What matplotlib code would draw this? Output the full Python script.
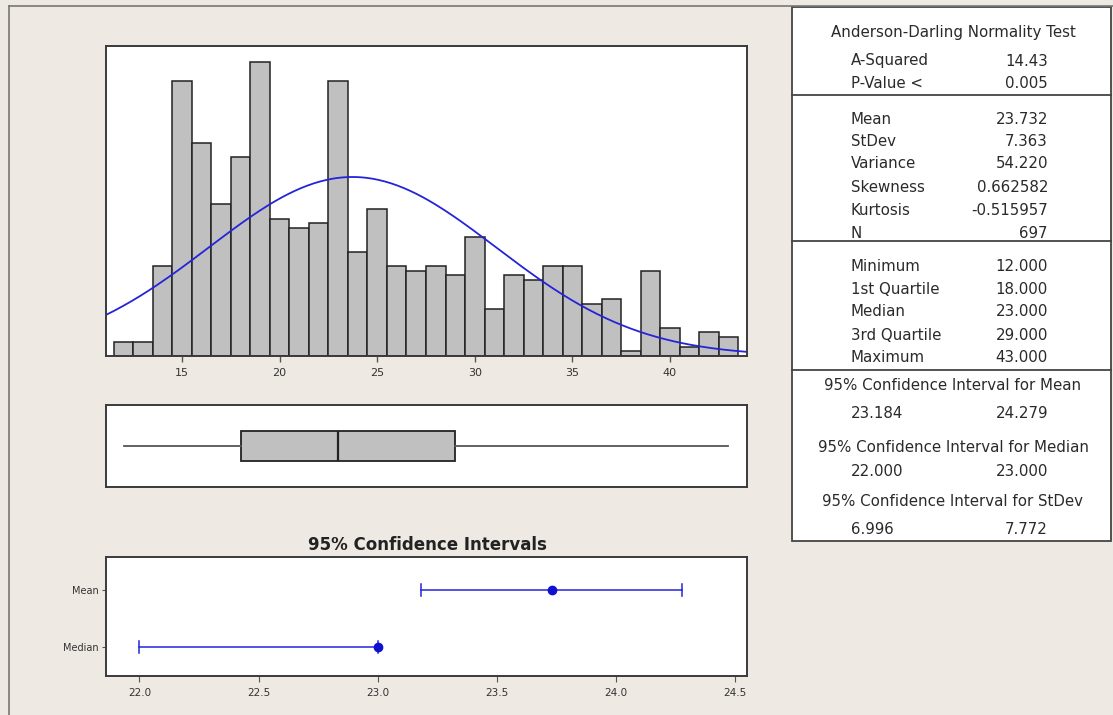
import numpy as np
import matplotlib.pyplot as plt
from matplotlib.patches import Rectangle
from matplotlib.lines import Line2D

# Histogram data (value -> count), N = 697
values = list(range(12, 44))
counts = [3, 3, 19, 58, 45, 32, 42, 62, 29, 27, 28, 58, 22, 31, 19, 18,
          19, 17, 25, 10, 17, 16, 19, 19, 11, 12, 1, 18, 6, 2, 5, 4]

# Summary statistics
mean, stdev, n = 23.732, 7.363, 697
box_stats = {'min': 12, 'q1': 18, 'median': 23, 'q3': 29, 'max': 43}
ci_labels = ['Mean', 'Median']
ci_center = [23.732, 23.0]
ci_low = [23.184, 22.0]
ci_high = [24.279, 23.0]
ci_ticks = [22.0, 22.5, 23.0, 23.5, 24.0, 24.5]
hist_ticks = [15, 20, 25, 30, 35, 40]

table_rows = [
    ('A-Squared', '14.43'), ('P-Value <', '0.005'),
    ('Mean', '23.732'), ('StDev', '7.363'), ('Variance', '54.220'),
    ('Skewness', '0.662582'), ('Kurtosis', '-0.515957'), ('N', '697'),
    ('Minimum', '12.000'), ('1st Quartile', '18.000'), ('Median', '23.000'),
    ('3rd Quartile', '29.000'), ('Maximum', '43.000'),
]
row_y = [61, 84, 119, 142, 164, 188, 210, 233, 267, 289, 312, 335, 357]
ci_rows = [
    ('95% Confidence Interval for Mean', '23.184', '24.279'),
    ('95% Confidence Interval for Median', '22.000', '23.000'),
    ('95% Confidence Interval for StDev', '6.996', '7.772'),
]
ci_row_y = [(386, 414), (447, 472), (501, 530)]

W, H = 1113, 715
BG = '#EEE9E3'
EDGE = '#3a3a3a'
BLUE = '#2424D8'

fig = plt.figure(figsize=(W / 100, H / 100), dpi=100, facecolor=BG)


def px_axes(l, t, r, b):
    return fig.add_axes([l / W, 1 - b / H, (r - l) / W, (b - t) / H])


def style_box(ax):
    for s in ax.spines.values():
        s.set_color(EDGE)
        s.set_linewidth(1.4)


xlim = (11.1, 43.95)

# ---- histogram
ax = px_axes(106, 46, 747, 356)
ax.bar(values, counts, width=1.0, color='#C0C0C0', edgecolor='#222222', linewidth=1.1)
xs = np.linspace(xlim[0], xlim[1], 300)
pdf = n * np.exp(-0.5 * ((xs - mean) / stdev) ** 2) / (stdev * np.sqrt(2 * np.pi))
ax.plot(xs, pdf, color=BLUE, lw=1.3)
ax.set_xlim(*xlim)
ax.set_ylim(0, 65.4)
ax.set_yticks([])
ax.set_xticks(hist_ticks)
ax.tick_params(axis='x', length=4, width=1, color='#555555', labelsize=8, pad=5, labelcolor='#333333')
style_box(ax)

# ---- boxplot
axb = px_axes(106, 405, 747, 487)
axb.bxp([{'whislo': box_stats['min'], 'q1': box_stats['q1'], 'med': box_stats['median'],
          'q3': box_stats['q3'], 'whishi': box_stats['max'], 'fliers': []}],
        vert=False, widths=0.36, patch_artist=True, showcaps=False,
        boxprops=dict(facecolor='#C0C0C0', edgecolor='#222222', linewidth=1.3),
        medianprops=dict(color='#222222', linewidth=1.6),
        whiskerprops=dict(color='#555555', linewidth=1.3))
axb.set_xlim(*xlim)
axb.set_ylim(0.5, 1.5)
axb.set_xticks([])
axb.set_yticks([])
style_box(axb)

# ---- confidence intervals
axc = px_axes(106, 557, 747, 676)
ypos = [1, 0]
for y, c, lo, hi in zip(ypos, ci_center, ci_low, ci_high):
    axc.plot([lo, hi], [y, y], color=BLUE, lw=1.1)
    axc.plot([lo, lo], [y - 0.1, y + 0.1], color=BLUE, lw=1.1)
    axc.plot([hi, hi], [y - 0.1, y + 0.1], color=BLUE, lw=1.1)
    axc.plot([c], [y], 'o', color='#1010D0', ms=6)
axc.set_xlim(21.86, 24.55)
axc.set_ylim(-0.51, 1.58)
axc.set_xticks(ci_ticks)
axc.set_xticklabels([f'{t:.1f}' for t in ci_ticks])
axc.set_yticks(ypos)
axc.set_yticklabels(ci_labels)
axc.tick_params(axis='x', length=4, color='#555555', labelsize=7.5, pad=5, labelcolor='#333333')
axc.tick_params(axis='y', length=3, color='#555555', labelsize=7, pad=2, labelcolor='#333333')
style_box(axc)
fig.text(427 / W, 1 - 545 / H, '95% Confidence Intervals', ha='center', va='center',
         fontsize=12, fontweight='bold', color='#222222')

# ---- outer frame and stats table
fig.add_artist(Line2D([9 / W, 9 / W], [0, 1 - 6 / H], color='#777777', lw=1.2))
fig.add_artist(Line2D([9 / W, 1], [1 - 6 / H, 1 - 6 / H], color='#777777', lw=1.2))
fig.add_artist(Rectangle((792 / W, 1 - 541 / H), (1111 - 792) / W, (541 - 7) / H,
                         facecolor='white', edgecolor='#444444', lw=1.3))
for yy in [95, 241, 370]:
    fig.add_artist(Line2D([792 / W, 1111 / W], [1 - yy / H] * 2, color='#444444', lw=1.3))

tkw = dict(fontsize=10.8, color='#2a2a2a', va='center')
fig.text(953 / W, 1 - 32 / H, 'Anderson-Darling Normality Test', ha='center', **tkw)
for (lab, val), y in zip(table_rows, row_y):
    fig.text(851 / W, 1 - y / H, lab, ha='left', **tkw)
    fig.text(1048 / W, 1 - y / H, val, ha='right', **tkw)
for (title, lo, hi), (y1, y2) in zip(ci_rows, ci_row_y):
    fig.text(953 / W, 1 - y1 / H, title, ha='center', **tkw)
    fig.text(851 / W, 1 - y2 / H, lo, ha='left', **tkw)
    fig.text(1048 / W, 1 - y2 / H, hi, ha='right', **tkw)

fig.savefig('out.png', dpi=100, facecolor=BG)
